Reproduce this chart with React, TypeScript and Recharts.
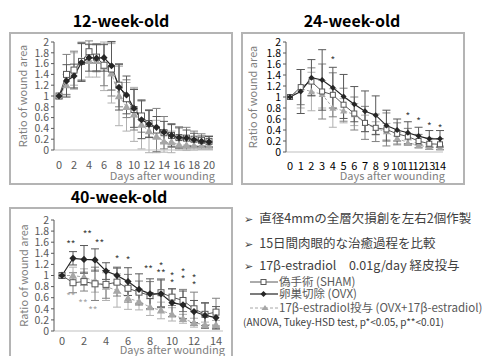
import React from 'react';
import { ComposedChart, Line, XAxis, YAxis, ErrorBar, ReferenceDot } from 'recharts';

const FONT = '"Noto Sans CJK JP", "Noto Sans", sans-serif';

// 12-week-old
const days12 = [0, 1, 2, 3, 4, 5, 6, 7, 8, 9, 10, 11, 12, 13, 14, 15, 16, 17, 18, 19, 20];
const sham12 = [1, 1.4, 1.48, 1.64, 1.82, 1.72, 1.57, 1.5, 1.2, 0.95, 0.75, 0.63, 0.49, 0.37, 0.32, 0.27, 0.23, 0.22, 0.2, 0.18, 0.16];
const shamErr12 = [0, 0.37, 0.35, 0.35, 0.2, 0.25, 0.38, 0.5, 0.4, 0.35, 0.38, 0.3, 0.25, 0.4, 0.3, 0.22, 0.2, 0.2, 0.15, 0.12, 0.1];
const ovx12 = [1, 1.28, 1.37, 1.62, 1.71, 1.7, 1.71, 1.56, 1.16, 1.02, 0.77, 0.56, 0.48, 0.42, 0.33, 0.27, 0.23, 0.22, 0.19, 0.16, 0.15];
const ovxErr12 = [0, 0.3, 0.22, 0.35, 0.25, 0.25, 0.25, 0.45, 0.42, 0.35, 0.35, 0.35, 0.25, 0.2, 0.2, 0.2, 0.18, 0.15, 0.12, 0.1, 0.1];
const e212 = [1, 1.2, 1.5, 1.65, 1.65, 1.65, 1.55, 1.42, 1.0, 0.8, 0.66, 0.47, 0.35, 0.25, 0.16, 0.15, 0.1, 0.09, 0.08, 0.08, 0.08];
const e2Err12 = [0, 0.2, 0.3, 0.35, 0.3, 0.3, 0.45, 0.55, 0.55, 0.45, 0.5, 0.45, 0.4, 0.3, 0.2, 0.2, 0.1, 0.1, 0.08, 0.07, 0.07];
const xTicks12 = [0, 2, 4, 6, 8, 10, 12, 14, 16, 18, 20];

// 24-week-old
const days24 = [0, 1, 2, 3, 4, 5, 6, 7, 8, 9, 10, 11, 12, 13, 14];
const sham24 = [1, 1.18, 1.28, 1.1, 1.04, 0.86, 0.7, 0.53, 0.44, 0.41, 0.33, 0.28, 0.2, 0.15, 0.14];
const shamErr24 = [0, 0.32, 0.25, 0.5, 0.4, 0.3, 0.3, 0.3, 0.25, 0.3, 0.2, 0.15, 0.12, 0.1, 0.1];
const ovx24 = [1, 1.1, 1.35, 1.31, 1.17, 1.01, 0.87, 0.74, 0.67, 0.48, 0.4, 0.35, 0.29, 0.24, 0.24];
const ovxErr24 = [0, 0.4, 0.33, 0.55, 0.37, 0.4, 0.32, 0.37, 0.35, 0.28, 0.2, 0.2, 0.16, 0.15, 0.15];
const e224 = [1, 1.15, 1.1, 1.05, 0.8, 0.75, 0.68, 0.52, 0.43, 0.37, 0.25, 0.17, 0.12, 0.09, 0.08];
const e2Err24 = [0, 0.35, 0.35, 0.25, 0.35, 0.22, 0.2, 0.15, 0.12, 0.15, 0.1, 0.05, 0.05, 0.04, 0.03];
const xTicks24 = [0, 1, 2, 3, 4, 5, 6, 7, 8, 9, 10, 11, 12, 13, 14];
const starDays24 = [4, 11, 12, 13, 14];
const starPos24 = [1.7, 0.68, 0.59, 0.5, 0.46];
const starText24 = ['*', '*', '*', '*', '*'];
const starTone24 = ['dark', 'dark', 'dark', 'dark', 'dark'];

// 40-week-old
const days40 = [0, 1, 2, 3, 4, 5, 6, 7, 8, 9, 10, 11, 12, 13, 14];
const sham40 = [1, 0.87, 0.89, 0.85, 0.84, 0.88, 0.77, 0.7, 0.64, 0.69, 0.61, 0.55, 0.4, 0.3, 0.34];
const shamErr40 = [0, 0.18, 0.17, 0.3, 0.25, 0.25, 0.25, 0.2, 0.25, 0.25, 0.15, 0.2, 0.3, 0.2, 0.25];
const ovx40 = [1, 1.31, 1.29, 1.28, 1.08, 1.0, 0.89, 0.75, 0.67, 0.67, 0.51, 0.47, 0.35, 0.28, 0.24];
const ovxErr40 = [0, 0.12, 0.25, 0.2, 0.15, 0.15, 0.25, 0.28, 0.27, 0.25, 0.25, 0.25, 0.2, 0.23, 0.2];
const e240 = [1, 1.0, 0.97, 0.9, 0.8, 0.73, 0.59, 0.53, 0.43, 0.37, 0.3, 0.22, 0.15, 0.11, 0.11];
const e2Err40 = [0, 0.15, 0.15, 0.2, 0.25, 0.3, 0.2, 0.15, 0.15, 0.15, 0.12, 0.08, 0.08, 0.05, 0.08];
const xTicks40 = [0, 2, 4, 6, 8, 10, 12, 14];
// stacked marks share one text, lines split by '\n' (position = top mark)
const starDays40 = [0.8, 2.3, 3.4, 5, 6, 7.85, 9, 10, 11, 12, 0.8, 1.9, 2.8];
const starPos40 = [1.58, 1.76, 1.61, 1.32, 1.3, 1.13, 1.19, 1.01, 1.09, 0.98, 0.64, 0.52, 0.4];
const starText40 = ['**', '**', '**', '*', '*', '**', '*\n**', '*\n*', '*\n*', '*\n*', '**', '**', '**'];
const starTone40 = ['dark', 'dark', 'dark', 'dark', 'dark', 'dark', 'dark', 'dark', 'dark', 'dark', 'light', 'light', 'light'];

const yTicks = [0, 0.2, 0.4, 0.6, 0.8, 1, 1.2, 1.4, 1.6, 1.8, 2];

const SHAM_LINE = '#595959';
const OVX_LINE = '#262626';
const E2_LINE = '#a6a6a6';

const squareDot = (size: number) => (p: any) => (
  <rect key={`sq-${p.index}`} x={p.cx - size / 2} y={p.cy - size / 2} width={size} height={size}
    fill="#fff" stroke={SHAM_LINE} strokeWidth={1} />
);
const diamondDot = (r: number) => (p: any) => (
  <polygon key={`dm-${p.index}`} points={`${p.cx},${p.cy - r} ${p.cx + r},${p.cy} ${p.cx},${p.cy + r} ${p.cx - r},${p.cy}`}
    fill={OVX_LINE} />
);
const triDot = (r: number) => (p: any) => (
  <polygon key={`tr-${p.index}`} points={`${p.cx},${p.cy - r} ${p.cx + r},${p.cy + r * 0.75} ${p.cx - r},${p.cy + r * 0.75}`}
    fill={E2_LINE} />
);

interface PanelProps {
  days: number[];
  sham: number[];
  shamErr: number[];
  ovx: number[];
  ovxErr: number[];
  e2: number[];
  e2Err: number[];
  xTicks: number[];
  width: number;
  height: number;
  margin: { top: number; right: number; left: number; bottom: number };
  yWidth: number;
  xHeight: number;
  xPad: { left: number; right: number };
  xTickMargin: number;
  tickColor: string;
  labelX: number;
  labelDy: number;
  dotSize: number;
  starDays?: number[];
  starPos?: number[];
  starText?: string[];
  starTone?: string[];
}

const Panel: React.FC<PanelProps> = (p) => {
  const rows = p.days.map((d, i) => ({
    day: d,
    sham: p.sham[i], shamErr: p.shamErr[i],
    ovx: p.ovx[i], ovxErr: p.ovxErr[i],
    e2: p.e2[i], e2Err: p.e2Err[i],
  }));
  const maxDay = p.days[p.days.length - 1];
  return (
    <ComposedChart width={p.width} height={p.height} data={rows} margin={p.margin}>
      <XAxis dataKey="day" type="number" domain={[0, maxDay]} ticks={p.xTicks} interval={0}
        padding={p.xPad} height={p.xHeight} tickLine={false} tickMargin={p.xTickMargin}
        stroke="#bfbfbf" tick={{ fill: p.tickColor, fontSize: 11 }}
        label={{
          content: (lp: any) => {
            const vb = lp.viewBox;
            return (
              <text x={vb.x + vb.width + 2} y={vb.y + vb.height - p.labelDy} textAnchor="end"
                fill="#808080" fontSize={11}>Days after wounding</text>
            );
          },
        }} />
      <YAxis type="number" domain={[0, 2]} ticks={yTicks} interval={0} allowDataOverflow width={p.yWidth}
        tickSize={3} tickMargin={2} stroke="#595959" tick={{ fill: p.tickColor, fontSize: 10.5 }}
        tickFormatter={(v: number) => String(+v.toFixed(1))}
        label={{
          content: (lp: any) => {
            const vb = lp.viewBox;
            const cy = vb.y + vb.height / 2;
            return (
              <text transform={`translate(${p.labelX},${cy}) rotate(-90)`} textAnchor="middle"
                dominantBaseline="central" fill="#808080" fontSize={11}>Ratio of wound area</text>
            );
          },
        }} />
      <Line dataKey="e2" stroke={E2_LINE} strokeWidth={1} strokeDasharray="3 2"
        dot={triDot(p.dotSize * 0.7)} isAnimationActive={false}>
        <ErrorBar dataKey="e2Err" direction="y" width={4} stroke="#b0b0b0" strokeWidth={1} isAnimationActive={false} />
      </Line>
      <Line dataKey="sham" stroke={SHAM_LINE} strokeWidth={1}
        dot={squareDot(p.dotSize)} isAnimationActive={false}>
        <ErrorBar dataKey="shamErr" direction="y" width={4} stroke="#808080" strokeWidth={1} isAnimationActive={false} />
      </Line>
      <Line dataKey="ovx" stroke={OVX_LINE} strokeWidth={1.2}
        dot={diamondDot(p.dotSize * 0.6)} isAnimationActive={false}>
        <ErrorBar dataKey="ovxErr" direction="y" width={4} stroke="#595959" strokeWidth={1} isAnimationActive={false} />
      </Line>
      {(p.starDays || []).map((d, i) => (
        <ReferenceDot key={`st-${i}`} x={d} y={p.starPos![i]} r={0}
          shape={(sp: any) => (
            <text x={sp.cx} y={sp.cy + 5} textAnchor="middle" fontSize={10}
              fill={p.starTone![i] === 'light' ? '#a6a6a6' : '#404040'}>
              {p.starText![i].split('\n').map((s, j) => (
                <tspan key={j} x={sp.cx} dy={j === 0 ? 0 : 7}>{s}</tspan>
              ))}
            </text>
          )} />
      ))}
    </ComposedChart>
  );
};

const frame: React.CSSProperties = {
  position: 'absolute', border: '2px solid #b4b4b4', boxSizing: 'border-box', background: '#fff',
};
const title: React.CSSProperties = {
  position: 'absolute', fontWeight: 700, fontSize: 16, color: '#000', textAlign: 'center', width: 160, lineHeight: '20px',
};

const LegendMark: React.FC<{ kind: string }> = ({ kind }) => (
  <svg width={28} height={10} style={{ position: 'absolute', left: 0, top: 2 }}>
    {kind === 'sham' && (<>
      <line x1={0} y1={5} x2={28} y2={5} stroke={SHAM_LINE} strokeWidth={1} />
      <rect x={11} y={2.5} width={5} height={5} fill="#fff" stroke={SHAM_LINE} />
    </>)}
    {kind === 'ovx' && (<>
      <line x1={0} y1={5} x2={28} y2={5} stroke={OVX_LINE} strokeWidth={1.2} />
      <polygon points="13.5,2 16.5,5 13.5,8 10.5,5" fill={OVX_LINE} />
    </>)}
    {kind === 'e2' && (<>
      <line x1={0} y1={5} x2={28} y2={5} stroke={E2_LINE} strokeWidth={1} strokeDasharray="3 2" />
      <polygon points="15,2 18.5,7 11.5,7" fill={E2_LINE} />
    </>)}
  </svg>
);

const bulletLines = [
  '直径4mmの全層欠損創を左右2個作製',
  '15日間肉眼的な治癒過程を比較',
  '17\u03B2-estradiol\u30000.01g/day 経皮投与',
];
const bulletTops = [209, 234, 256];
const legendKinds = ['sham', 'ovx', 'e2'];
const legendLabels = ['偽手術 (SHAM)', '卵巣切除 (OVX)', '17\u03B2-estradiol投与 (OVX+17\u03B2-estradiol)'];
const legendTops = [275, 287, 301];

export default function App() {
  return (
    <div style={{ position: 'absolute', left: 0, top: 0, width: 501, height: 356, overflow: 'hidden', background: '#fff', fontFamily: FONT }}>
      <div style={{ ...title, left: 41, top: 10 }}>12-week-old</div>
      <div style={{ ...title, left: 272, top: 10 }}>24-week-old</div>
      <div style={{ ...title, left: 39, top: 186 }}>40-week-old</div>

      <div style={{ ...frame, left: 9, top: 32, width: 224, height: 153 }} />
      <div style={{ ...frame, left: 241, top: 32, width: 224, height: 153 }} />
      <div style={{ ...frame, left: 9, top: 207, width: 224, height: 170 }} />

      <div style={{ position: 'absolute', left: 11, top: 34 }}>
        <Panel days={days12} sham={sham12} shamErr={shamErr12} ovx={ovx12} ovxErr={ovxErr12} e2={e212} e2Err={e2Err12}
          xTicks={xTicks12} width={220} height={149} margin={{ top: 8, right: 18, left: 0, bottom: 0 }}
          yWidth={43} xHeight={33} xPad={{ left: 5, right: 4 }} xTickMargin={5} tickColor="#595959"
          labelX={11} labelDy={3} dotSize={6} />
      </div>
      <div style={{ position: 'absolute', left: 243, top: 34 }}>
        <Panel days={days24} sham={sham24} shamErr={shamErr24} ovx={ovx24} ovxErr={ovxErr24} e2={e224} e2Err={e2Err24}
          xTicks={xTicks24} width={220} height={149} margin={{ top: 8, right: 20, left: 0, bottom: 0 }}
          yWidth={43} xHeight={31} xPad={{ left: 4, right: 3 }} xTickMargin={4} tickColor="#000"
          labelX={9} labelDy={3} dotSize={5}
          starDays={starDays24} starPos={starPos24} starText={starText24} starTone={starTone24} />
      </div>
      <div style={{ position: 'absolute', left: 11, top: 209 }}>
        <Panel days={days40} sham={sham40} shamErr={shamErr40} ovx={ovx40} ovxErr={ovxErr40} e2={e240} e2Err={e2Err40}
          xTicks={xTicks40} width={220} height={147} margin={{ top: 11, right: 8, left: 0, bottom: 0 }}
          yWidth={43} xHeight={25} xPad={{ left: 8, right: 7 }} xTickMargin={0} tickColor="#595959"
          labelX={12} labelDy={2} dotSize={6}
          starDays={starDays40} starPos={starPos40} starText={starText40} starTone={starTone40} />
      </div>

      {bulletLines.map((t, i) => (
        <div key={`b-${i}`} style={{ position: 'absolute', left: 244, top: bulletTops[i], fontSize: 12.5, color: '#404040', whiteSpace: 'nowrap', lineHeight: '18px' }}>
          <span style={{ fontFamily: '"DejaVu Sans", sans-serif', fontSize: 11, marginRight: 6 }}>➢</span>{t}
        </div>
      ))}
      {legendKinds.map((k, i) => (
        <div key={`l-${i}`} style={{ position: 'absolute', left: 250, top: legendTops[i], height: 14, width: 260 }}>
          <LegendMark kind={k} />
          <span style={{ position: 'absolute', left: 29, top: -1, fontSize: 11.5, lineHeight: '14px', color: '#595959', whiteSpace: 'nowrap' }}>{legendLabels[i]}</span>
        </div>
      ))}
      <div style={{ position: 'absolute', left: 243, top: 315, fontSize: 10, color: '#404040', whiteSpace: 'nowrap', lineHeight: '14px' }}>
        (ANOVA, Tukey-HSD test, p*&lt;0.05, p**&lt;0.01)
      </div>
    </div>
  );
}
